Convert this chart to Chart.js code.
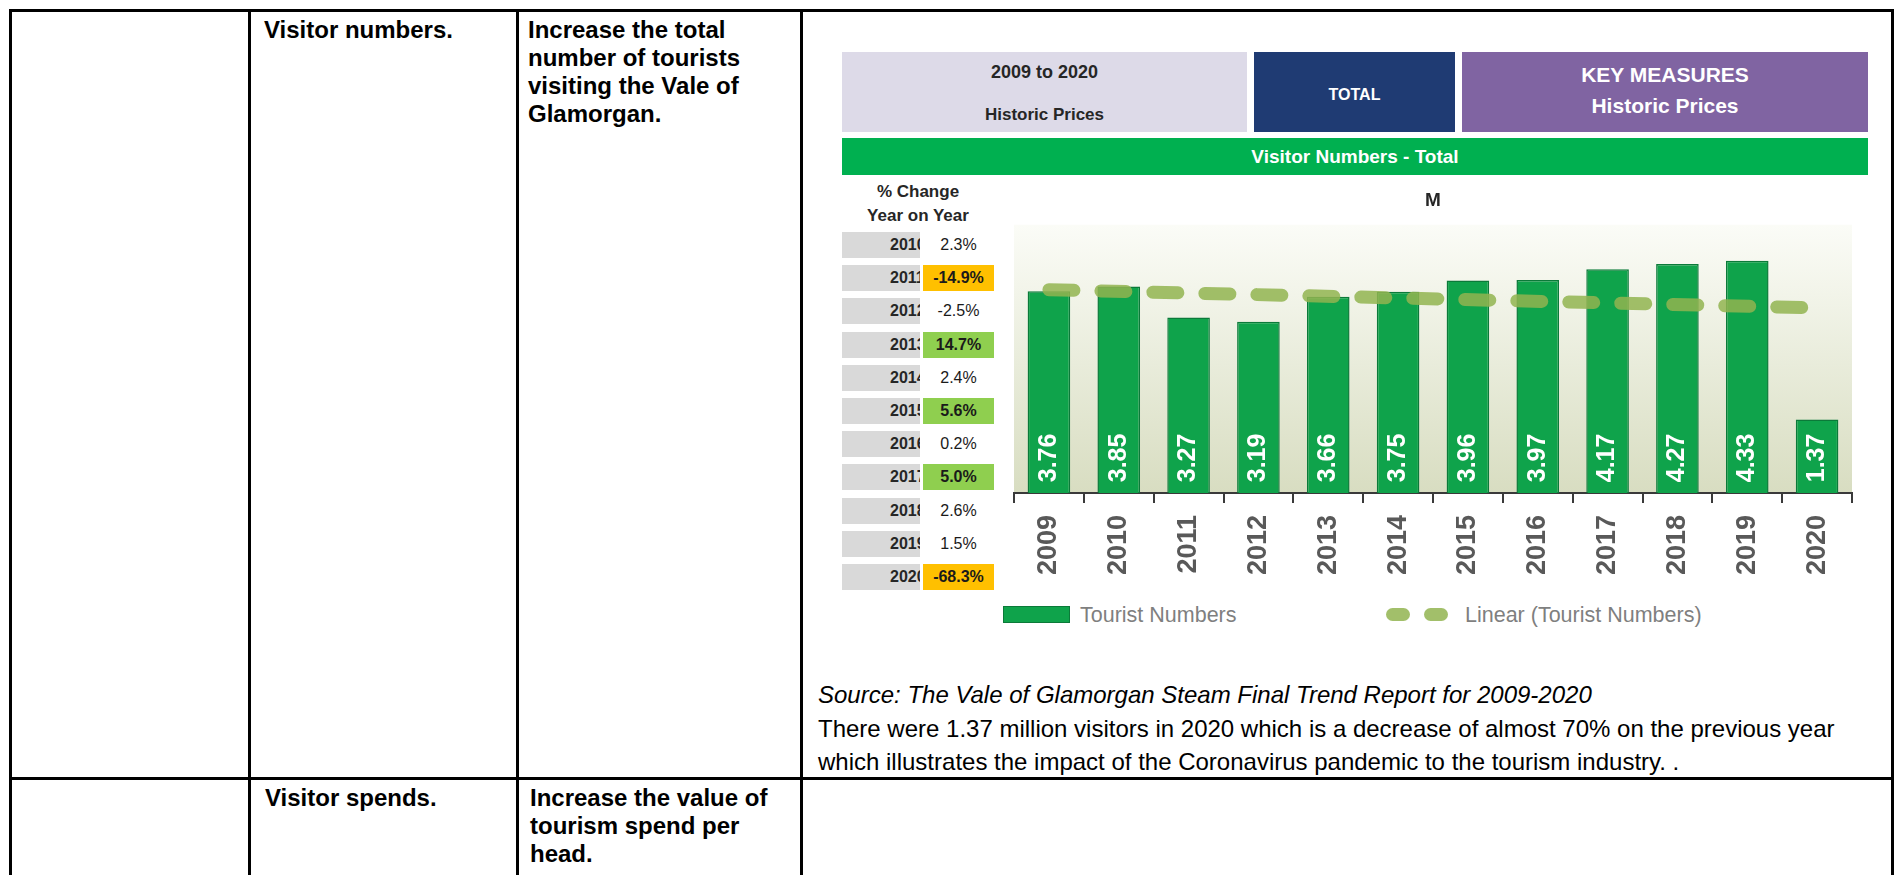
<!DOCTYPE html>
<html>
<head>
<meta charset="utf-8">
<script src="https://cdn.jsdelivr.net/npm/chart.js@4.4.1/dist/chart.umd.min.js"></script>
<style>
body{margin:0;width:1896px;height:875px;overflow:hidden;background:#fff;position:relative;font-family:"Liberation Sans",Arial,sans-serif;}
.ln{position:absolute;background:#000;}
.txt{position:absolute;font-size:24px;line-height:28px;color:#000;white-space:nowrap;}
.b{font-weight:bold;}
.hbox{position:absolute;}
.hbox span{position:absolute;left:0;right:0;text-align:center;font-weight:bold;white-space:nowrap;}
.pct{position:absolute;left:842px;height:26px;width:152px;}
.pct .yr{position:absolute;left:0;top:0;width:78px;height:26px;background:#d9d9d9;overflow:hidden;font-weight:bold;font-size:16px;line-height:26px;color:#262626;padding-left:48px;box-sizing:border-box;white-space:nowrap;}
.pct .val{position:absolute;left:81px;top:0;width:71px;height:26px;font-size:16px;line-height:26px;text-align:center;color:#1a1a1a;}
.leg{position:absolute;font-size:21.5px;color:#7f7f7f;line-height:24px;white-space:nowrap;}
</style>
</head>
<body>

<!-- table grid -->
<div class="ln" style="left:9px;top:9px;width:1885px;height:3px"></div>
<div class="ln" style="left:9px;top:777px;width:1885px;height:3px"></div>
<div class="ln" style="left:9px;top:9px;width:3px;height:866px"></div>
<div class="ln" style="left:248px;top:9px;width:3px;height:866px"></div>
<div class="ln" style="left:516px;top:9px;width:3px;height:866px"></div>
<div class="ln" style="left:800px;top:9px;width:3px;height:866px"></div>
<div class="ln" style="left:1891px;top:9px;width:3px;height:866px"></div>

<div class="txt b" style="left:264px;top:16px">Visitor numbers.</div>
<div class="txt b" style="left:528px;top:16px">Increase the total<br>number of tourists<br>visiting the Vale of<br>Glamorgan.</div>
<div class="txt b" style="left:265px;top:784px">Visitor spends.</div>
<div class="txt b" style="left:530px;top:784px">Increase the value of<br>tourism spend per<br>head.</div>

<div class="txt" style="left:818px;top:678px;line-height:33.5px">
<i>Source: The Vale of Glamorgan Steam Final Trend Report for 2009-2020</i><br>
There were 1.37 million visitors in 2020 which is a decrease of almost 70% on the previous year<br>
which illustrates the impact of the Coronavirus pandemic to the tourism industry. .
</div>

<!-- chart header -->
<div class="hbox" style="left:842px;top:52px;width:405px;height:80px;background:#dddae8;color:#262626">
  <span style="top:10px;font-size:18px;line-height:20px">2009 to 2020</span>
  <span style="top:53px;font-size:17px;line-height:20px">Historic Prices</span>
</div>
<div class="hbox" style="left:1254px;top:52px;width:201px;height:80px;background:#1f3b73;color:#fff">
  <span style="top:33px;font-size:16px;line-height:20px">TOTAL</span>
</div>
<div class="hbox" style="left:1462px;top:52px;width:406px;height:80px;background:#8064a2;color:#fff">
  <span style="top:11px;font-size:21px;line-height:24px">KEY MEASURES</span>
  <span style="top:42px;font-size:21px;line-height:24px">Historic Prices</span>
</div>
<div class="hbox" style="left:842px;top:138px;width:1026px;height:37px;background:#00b050;color:#fff">
  <span style="top:0;font-size:19px;line-height:37px">Visitor Numbers - Total</span>
</div>

<div class="hbox" style="left:862px;top:182px;width:112px;height:44px;color:#262626">
  <span style="top:0;font-size:17px;line-height:20px">% Change</span>
  <span style="top:24px;font-size:17px;line-height:20px">Year on Year</span>
</div>
<div id="pctTable"></div>

<div style="position:absolute;left:842px;top:178px;width:1026px;height:419px">
  <canvas id="myChart" width="1026" height="419"></canvas>
</div>

<div id="legend"></div>

<script>
const years = ["2009","2010","2011","2012","2013","2014","2015","2016","2017","2018","2019","2020"];
const touristNumbers = [3.76, 3.85, 3.27, 3.19, 3.66, 3.75, 3.96, 3.97, 4.17, 4.27, 4.33, 1.37];

// linear trend line: value at 2009 and at 2020
const trendStart = 3.79;
const trendEnd = 3.45;

const changeYears = ["2010","2011","2012","2013","2014","2015","2016","2017","2018","2019","2020"];
const changeValues = [2.3, -14.9, -2.5, 14.7, 2.4, 5.6, 0.2, 5.0, 2.6, 1.5, -68.3];

Chart.defaults.font.family = '"Liberation Sans", Arial, sans-serif';

const trendLine = years.map((y, i) => i === 0 ? trendStart : (i === years.length - 1 ? trendEnd : null));

// % change side table
const pctTable = document.getElementById("pctTable");
changeYears.forEach((yr, i) => {
    const v = changeValues[i];
    let bg = "#fff";
    let weight = "normal";
    if (v >= 5) { bg = "#8fcf4f"; weight = "bold"; }
    if (v <= -10) { bg = "#ffc000"; weight = "bold"; }
    const row = document.createElement("div");
    row.className = "pct";
    row.style.top = (232 + i * 33.2) + "px";
    row.innerHTML = '<div class="yr">' + yr + '</div>' +
        '<div class="val" style="background:' + bg + ';font-weight:' + weight + '">' + v.toFixed(1) + '%</div>';
    pctTable.appendChild(row);
});

const plotBackground = {
    id: "plotBackground",
    beforeDraw(chart) {
        const a = chart.chartArea;
        const c = chart.ctx;
        const g = c.createLinearGradient(0, a.top, 0, a.bottom);
        g.addColorStop(0, "#fbfcf7");
        g.addColorStop(1, "#d8ddc1");
        c.save();
        c.fillStyle = g;
        c.fillRect(a.left, a.top, a.right - a.left, a.bottom - a.top);
        c.restore();
    }
};

const barLabels = {
    id: "barLabels",
    afterDatasetsDraw(chart) {
        const meta = chart.getDatasetMeta(1);
        const c = chart.ctx;
        c.save();
        c.fillStyle = "#ffffff";
        c.font = 'bold 25px "Liberation Sans", Arial, sans-serif';
        c.textAlign = "center";
        c.textBaseline = "middle";
        meta.data.forEach((bar, i) => {
            c.save();
            c.translate(bar.x, bar.base - 35);
            c.rotate(-Math.PI / 2);
            c.fillText(touristNumbers[i].toFixed(2), 0, 0);
            c.restore();
        });
        c.restore();
    }
};

const ctx = document.getElementById("myChart").getContext("2d");
const myChart = new Chart(ctx, {
    type: "bar",
    data: {
        labels: years,
        datasets: [{
            type: "line",
            label: "Linear (Tourist Numbers)",
            data: trendLine,
            borderColor: "rgba(146,180,80,0.85)",
            borderWidth: 13,
            borderDash: [25, 27],
            borderCapStyle: "round",
            pointRadius: 0,
            spanGaps: true,
            order: 0
        }, {
            label: "Tourist Numbers",
            data: touristNumbers,
            backgroundColor: "#0fa34b",
            borderColor: "#0b7a39",
            borderWidth: 1.5,
            barPercentage: 0.61,
            categoryPercentage: 1,
            order: 1
        }]
    },
    options: {
        responsive: false,
        animation: false,
        layout: { padding: { left: 172, right: 16, top: 0, bottom: 10 } },
        plugins: {
            legend: { display: false },
            tooltip: { enabled: false },
            title: {
                display: true,
                text: "M",
                color: "#262626",
                font: { size: 19, weight: "bold" },
                padding: { top: 11, bottom: 13 }
            }
        },
        scales: {
            x: {
                grid: { display: true, drawOnChartArea: false, drawTicks: true, tickLength: 10, color: "#3a3a3a", lineWidth: 2 },
                border: { display: true, color: "#3a3a3a", width: 2 },
                ticks: { minRotation: 90, maxRotation: 90, padding: 12, color: "#595959", font: { size: 27, weight: "bold" } }
            },
            y: { display: false, min: 0, max: 5 }
        }
    },
    plugins: [plotBackground, barLabels]
});

// legend built from the datasets
const legend = document.getElementById("legend");
const barSet = myChart.data.datasets[1];
const lineSet = myChart.data.datasets[0];
legend.innerHTML =
    '<div style="position:absolute;left:1003px;top:606px;width:67px;height:17px;background:' + barSet.backgroundColor + ';box-sizing:border-box;border:1px solid ' + barSet.borderColor + '"></div>' +
    '<div class="leg" style="left:1080px;top:603px">' + barSet.label + '</div>' +
    '<div style="position:absolute;left:1386px;top:608px;width:24px;height:13px;border-radius:7px;background:' + lineSet.borderColor + '"></div>' +
    '<div style="position:absolute;left:1424px;top:608px;width:24px;height:13px;border-radius:7px;background:' + lineSet.borderColor + '"></div>' +
    '<div class="leg" style="left:1465px;top:603px">' + lineSet.label + '</div>';
</script>
</body>
</html>
